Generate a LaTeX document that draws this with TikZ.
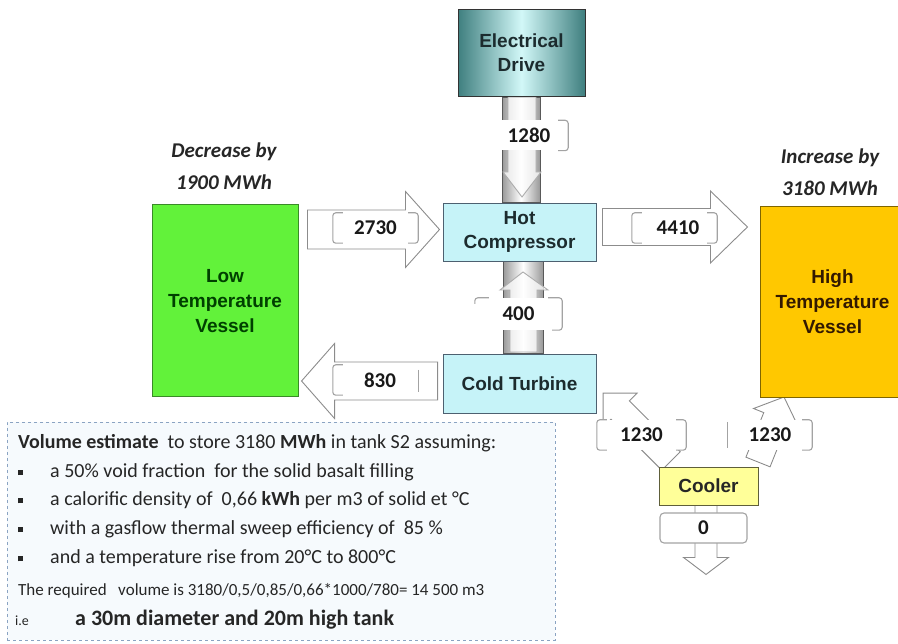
\documentclass[tikz,border=0pt]{standalone}
\usepackage{fontspec}
\setmainfont{Carlito}
\newfontfamily\arial{Liberation Sans}
\usetikzlibrary{calc}
\pgfdeclarelayer{bg}
\pgfsetlayers{bg,main}
\definecolor{edge}{HTML}{3F7F7F}
\definecolor{edmid}{HTML}{D2F8F8}
\definecolor{cyanbox}{HTML}{C6F3F8}
\definecolor{cyanline}{HTML}{4D6070}
\definecolor{lowfill}{HTML}{62F23A}
\definecolor{lowline}{HTML}{3A8A28}
\definecolor{highfill}{HTML}{FFC800}
\definecolor{highline}{HTML}{7F6500}
\definecolor{coolfill}{HTML}{FFFF99}
\definecolor{coolline}{HTML}{5E5E3A}
\definecolor{arrline}{HTML}{8C8C8C}
\definecolor{tbfill}{HTML}{F6FAFD}
\definecolor{tbline}{HTML}{8AA3C2}
\definecolor{boxtext}{HTML}{1C2B2E}
\newcommand{\barrow}[6]{%
  \path[arr, shift={(#1)}, rotate=#2] (0pt,#4pt) -- ({#3pt-#6pt},#4pt) -- ({#3pt-#6pt},#5pt) -- (#3pt,0pt) -- ({#3pt-#6pt},-#5pt) -- ({#3pt-#6pt},-#4pt) -- (0pt,-#4pt) -- cycle;}
\newcommand{\lbrk}[1]{\draw[brk] ([xshift=10pt]#1.north west) -- (#1.north west) -- (#1.south west) -- ([xshift=10pt]#1.south west);}
\newcommand{\rbrk}[1]{\draw[brk] ([xshift=-10pt]#1.north east) -- (#1.north east) -- (#1.south east) -- ([xshift=-10pt]#1.south east);}
\newcommand{\numf}{\fontsize{21}{21}\selectfont\bfseries}
\newcommand{\sqb}{\makebox[32pt][l]{\rule[2pt]{5pt}{5pt}}}
\begin{document}
\begin{tikzpicture}[x=1pt,y=-1pt,
  box/.style={draw=cyanline, line width=0.9pt, fill=cyanbox, align=center, inner sep=0pt,
    font=\arial\bfseries\fontsize{19}{24}\selectfont, text=boxtext},
  vessel/.style={line width=1pt, align=center, inner sep=0pt,
    font=\arial\bfseries\fontsize{19}{25}\selectfont},
  arr/.style={draw=arrline, line width=0.9pt, fill=white},
  lbl/.style={fill=white, inner sep=0pt, minimum height=30pt, font=\numf, text=black!90},
  brk/.style={draw=arrline!80, line width=1.1pt, rounded corners=3pt},
  shaft/.style={draw=gray!70!black, line width=0.6pt, left color=gray!80, right color=gray!80, middle color=white},
  inner/.style={draw=gray!65, line width=0.9pt, fill=white, fill opacity=0.75},
  note/.style={font=\bfseries\itshape\fontsize{21}{32}\selectfont, align=center, text=black!85},
  tline/.style={anchor=west, inner sep=0pt, font=\fontsize{20}{23}\selectfont, text=black!85}]
\useasboundingbox (0,0) rectangle (898,644);

% main boxes
\node[box, draw=gray!40!black, left color=edge, right color=edge, middle color=edmid,
  minimum width=127pt, minimum height=87pt] (ed) at (521.5,53) {Electrical\\Drive};
\node[box, minimum width=153pt, minimum height=58pt] (hc) at (519.5,232) {Hot\\Compressor};
\node[box, minimum width=153pt, minimum height=59pt] (ct) at (519.5,383.5) {Cold Turbine};
\node[vessel, draw=lowline, fill=lowfill, text=green!25!black, minimum width=146pt, minimum height=192pt] (lv) at (225,301) {Low\\Temperature\\Vessel};
\node[vessel, draw=highline, fill=highfill, text=black!80!orange, minimum width=145pt, minimum height=191pt] (hv) at (832.5,302) {High\\Temperature\\Vessel};
\node[box, draw=coolline, fill=coolfill, text=black!85, minimum width=99pt, minimum height=38pt] (co) at (708.5,486) {Cooler};

\node[note] (dec) at (224,166) {Decrease by\\1900 MWh};
\node[note] (inc) at (830,172) {Increase by\\3180 MWh};

% connector anchors
\coordinate (t2730) at ([xshift=9pt]lv.east |- 0,229.5);
\coordinate (t4410) at ([xshift=6pt]hc.east |- 0,227);
\coordinate (t830) at ([xshift=-5pt]ct.west |- 0,381);
\coordinate (t0) at ([xshift=-2.5pt]co.south);
\coordinate (tL) at (671,461);
\coordinate (tR) at (758,462);

\begin{pgfonlayer}{bg}
  \barrow{t2730}{0}{132}{19.5}{38}{34}
  \barrow{t4410}{0}{145}{18.5}{36}{37}
  \barrow{t830}{180}{136}{19}{37.5}{33}
  \barrow{t0}{-90}{69}{11}{22.5}{17}
  \barrow{tL}{135}{96}{13}{24}{24}
  \barrow{tR}{68.2}{70}{13}{24}{22}
  % shaft drive -> compressor
  \path[shaft] ([xshift=-19.5pt]ed.south) rectangle ([xshift=20.5pt]hc.north);
  \path[inner] (508,97) -- (508,172) -- (503,172) -- (522,197) -- (541,172) -- (536,172) -- (536,97);
  % shaft turbine -> compressor
  \path[shaft] ([xshift=-16.5pt]ct.north) rectangle ([xshift=23.5pt]hc.south);
  \path[inner] (510,352) -- (510,290) -- (500,290) -- (523,272) -- (548,290) -- (537,290) -- (537,352) -- cycle;
\end{pgfonlayer}

% flow labels
\node[lbl, minimum width=78pt] (l1280) at (529,135.5) {1280\hspace{28pt}};
\rbrk{l1280}
\node[lbl, minimum width=87pt, minimum height=32pt] (l400) at (518.5,314) {\raisebox{-4pt}{400}\hspace{11pt}};
\draw[brk] ([yshift=-6pt]l400.north west) -- (l400.north west) -- ([xshift=14pt]l400.north west);
\draw[brk] ([xshift=-14pt]l400.north east) -- (l400.north east) -- (l400.south east) -- ([xshift=-10pt]l400.south east);
\node[lbl, minimum width=85pt] (l2730) at (375.5,228) {2730};
\lbrk{l2730}\rbrk{l2730}
\node[lbl, minimum width=85pt] (l4410) at (674.5,228) {\hspace{7pt}4410};
\lbrk{l4410}\rbrk{l4410}
\node[lbl, minimum width=85pt] (l830) at (375.5,380) {\hspace{9pt}830};
\lbrk{l830}
\draw[brk] ([yshift=-5pt]l830.north east) -- ([yshift=3pt]l830.south east);
\node[lbl, minimum width=89pt] (l1230a) at (641.5,435) {1230};
\lbrk{l1230a}\rbrk{l1230a}
\node[lbl, minimum width=84pt] (l1230b) at (770,435) {1230};
\draw[brk] ([yshift=-2pt]l1230b.north west) -- ([yshift=2pt]l1230b.south west);
\rbrk{l1230b}
\node[lbl, draw=arrline!80, line width=1.1pt, rounded corners=4pt, minimum width=87pt] (l0) at (703.5,528) {0};

% note box
\node[draw=tbline, dashed, line width=0.9pt, fill=tbfill, minimum width=548pt, minimum height=218pt, inner sep=0pt] (tb) at (281,531) {};
\node[tline] (v1) at (18,443) {\textbf{Volume estimate}\ \ to store 3180 \textbf{MWh} in tank S2 assuming:};
\node[tline] (v2) at (18,472) {\sqb a 50\% void fraction\ \ for the solid basalt filling};
\node[tline] (v3) at (18,500) {\sqb a calorific density of\ \ 0,66 \textbf{kWh} per m3 of solid et °C};
\node[tline] (v4) at (18,529) {\sqb with a gasflow thermal sweep efficiency of\ \ 85 \%};
\node[tline] (v5) at (18,558) {\sqb and a temperature rise from 20°C to 800°C};
\node[tline, font=\fontsize{17}{19}\selectfont] (v6) at (18,591) {The required\ \ \ volume is 3180/0,5/0,85/0,66*1000/780= 14 500 m3};
\node[tline, font=\fontsize{14}{16}\selectfont] (v7) at (15,621) {i.e};
\node[tline, font=\bfseries\fontsize{22}{24}\selectfont] (v8) at (75,620) {a 30m diameter and 20m high tank};
\end{tikzpicture}
\end{document}
